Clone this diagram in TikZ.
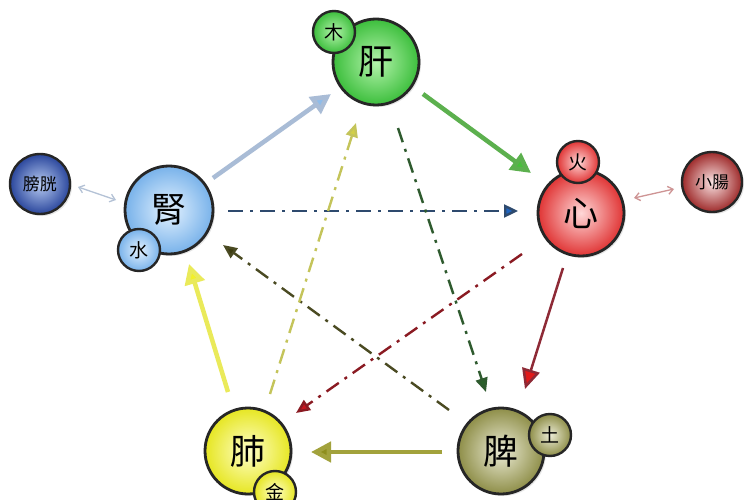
\documentclass[tikz,border=0pt]{standalone}
\usepackage{fontspec}
\newfontfamily\cjk{Noto Sans CJK TC}
\usetikzlibrary{arrows.meta,shadows}
\definecolor{lvIn}{HTML}{B4F4AC}\definecolor{lvOut}{HTML}{3CBE3C}
\definecolor{kdIn}{HTML}{E4F2FF}\definecolor{kdOut}{HTML}{78B2EA}
\definecolor{blIn}{HTML}{B8CCF2}\definecolor{blOut}{HTML}{2A469C}
\definecolor{htIn}{HTML}{FFD8D8}\definecolor{htOut}{HTML}{E03434}
\definecolor{siIn}{HTML}{FAE4E4}\definecolor{siOut}{HTML}{9E2A2A}
\definecolor{lgIn}{HTML}{FFFFC8}\definecolor{lgOut}{HTML}{E6E622}
\definecolor{spIn}{HTML}{ECECD6}\definecolor{spOut}{HTML}{8E8E48}
% arrow colours
\definecolor{kLine}{HTML}{A9BCD6}\definecolor{kHead}{HTML}{8FBCEA}
\definecolor{gLine}{HTML}{5CB04E}\definecolor{gHead}{HTML}{46C03A}
\definecolor{rLine}{HTML}{8E2A36}\definecolor{rHead}{HTML}{E01A1A}
\definecolor{oLine}{HTML}{A2A23C}\definecolor{oHead}{HTML}{8E8E1E}
\definecolor{yLine}{HTML}{EAEA5A}\definecolor{yHead}{HTML}{F2F028}
\definecolor{bdLine}{HTML}{2E4A6E}\definecolor{bdHead}{HTML}{1E64C0}
\definecolor{rdLine}{HTML}{8A1A22}\definecolor{rdHead}{HTML}{C8141E}
\definecolor{odLine}{HTML}{4A4A22}\definecolor{odHead}{HTML}{3C3C10}
\definecolor{ydLine}{HTML}{C4C45A}\definecolor{ydHead}{HTML}{D2D048}
\definecolor{gdLine}{HTML}{2E5A2E}\definecolor{gdHead}{HTML}{2A602A}
\definecolor{dbBlue}{HTML}{B4C2D6}\definecolor{dbRed}{HTML}{CE9494}
\tikzset{
  organ/.style n args={3}{circle, draw=black!85, line width=2.8pt,
     inner color=#1, outer color=#2, minimum size=#3, inner sep=0pt,
     drop shadow={opacity=0.2, shadow xshift=2pt, shadow yshift=-2pt},
     font=\cjk\fontsize{35}{35}\selectfont},
  elem/.style n args={3}{circle, draw=black!85, line width=2.4pt,
     inner color=#1, outer color=#2, minimum size=#3, inner sep=0pt,
     font=\cjk\fontsize{19}{19}\selectfont},
  pair/.style n args={3}{circle, draw=black!85, line width=2.4pt,
     inner color=#1, outer color=#2, minimum size=#3, inner sep=0pt,
     drop shadow={opacity=0.2, shadow xshift=2pt, shadow yshift=-2pt},
     font=\cjk\fontsize{17}{17}\selectfont},
  solidarrow/.style={line width=4.5pt, draw=#1},
  dashdot/.style={line width=2.4pt, draw=#1, dash pattern=on 15pt off 7pt on 3pt off 7pt},
  dbl/.style={line width=1.3pt, draw=#1, {Straight Barb[length=5pt,width=8pt]}-{Straight Barb[length=5pt,width=8pt]}}
}
\begin{document}
\begin{tikzpicture}[x=1pt,y=-1pt]
\useasboundingbox[fill=white] (0,0) rectangle (750,500);

% arrow endpoints
\coordinate (a1) at (213,178); \coordinate (a2) at (331,94);
\coordinate (b1) at (423,94);  \coordinate (b2) at (531,173);
\coordinate (c1) at (563,268); \coordinate (c2) at (525,389);
\coordinate (d1) at (442,452); \coordinate (d2) at (311,452);
\coordinate (e1) at (228,392); \coordinate (e2) at (189,264);
\coordinate (f1) at (228,211); \coordinate (f2) at (518,211);
\coordinate (g1) at (522,254); \coordinate (g2) at (296,413);
\coordinate (h1) at (449,410); \coordinate (h2) at (223,245);
\coordinate (i1) at (270,394); \coordinate (i2) at (356,123);
\coordinate (j1) at (398,128); \coordinate (j2) at (486,392);
\coordinate (k1) at (78,187);  \coordinate (k2) at (116,200);
\coordinate (l1) at (634,198); \coordinate (l2) at (674,189);

% dash-dot arrows
\draw[dashdot=bdLine, -{Triangle[length=14pt,width=13pt,fill=bdHead]}] (f1) -- (f2);
\draw[dashdot=rdLine, -{Triangle[length=14pt,width=12pt,fill=rdHead]}] (g1) -- (g2);
\draw[dashdot=odLine, -{Triangle[length=14pt,width=12pt,fill=odHead]}] (h1) -- (h2);
\draw[dashdot=ydLine, -{Triangle[length=14pt,width=12pt,fill=ydHead]}] (i1) -- (i2);
\draw[dashdot=gdLine, -{Triangle[length=14pt,width=12pt,fill=gdHead]}] (j1) -- (j2);

% solid arrows
\draw[solidarrow=kLine, -{Triangle[length=20pt,width=20pt,fill=kHead]}] (a1) -- (a2);
\draw[solidarrow=gLine, -{Triangle[length=20pt,width=20pt,fill=gHead]}] (b1) -- (b2);
\draw[line width=2.5pt, draw=rLine, -{Triangle[length=20pt,width=18pt,fill=rHead]}] (c1) -- (c2);
\draw[solidarrow=oLine, -{Triangle[length=20pt,width=20pt,fill=oHead]}] (d1) -- (d2);
\draw[solidarrow=yLine, -{Triangle[length=20pt,width=20pt,fill=yHead]}] (e1) -- (e2);

% double arrows
\draw[dbl=dbBlue] (k1) -- (k2);
\draw[dbl=dbRed] (l1) -- (l2);

% organs
\node[organ={lvIn}{lvOut}{86pt}] (liver) at (376,62) {肝};
\node[elem={lvIn}{lvOut}{42pt}] (wood) at (334,32) {木};

\node[organ={kdIn}{kdOut}{88pt}] (kidney) at (169,210) {腎};
\node[elem={kdIn}{kdOut}{42pt}] (water) at (139,250) {水};

\node[pair={blIn}{blOut}{60pt}] (bladder) at (40,184) {膀胱};

\node[organ={htIn}{htOut}{86pt}] (heart) at (581,213) {心};
\node[elem={htIn}{htOut}{42pt}] (fire) at (578,162) {火};

\node[pair={siIn}{siOut}{60pt}] (smallint) at (712,182) {小腸};

\node[organ={lgIn}{lgOut}{86pt}] (lung) at (248,451) {肺};
\node[elem={lgIn}{lgOut}{42pt}] (metal) at (275,492) {金};

\node[organ={spIn}{spOut}{86pt}] (spleen) at (501,451) {脾};
\node[elem={spIn}{spOut}{42pt}] (earth) at (550,435) {土};
\end{tikzpicture}
\end{document}
